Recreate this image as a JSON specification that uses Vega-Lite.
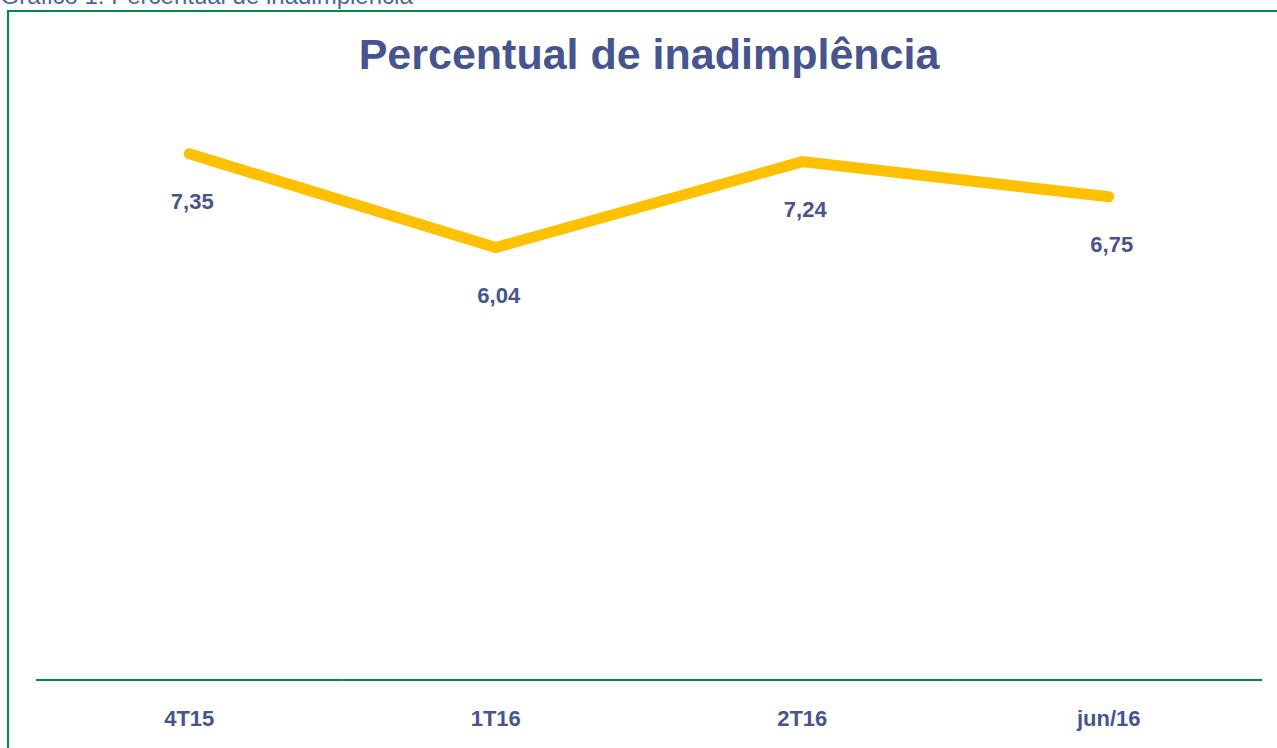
{
  "$schema": "https://vega.github.io/schema/vega-lite/v6.json",
  "autosize": "none",
  "padding": {"left": 8, "top": 11, "right": 0, "bottom": 0},
  "width": 1282,
  "height": 750,
  "background": "white",
  "title": {
    "text": "Percentual de inadimplência",
    "anchor": "middle",
    "frame": "group",
    "fontSize": 43,
    "fontWeight": "bold",
    "font": "Liberation Sans",
    "color": "#46548F",
    "baseline": "alphabetic",
    "offset": -59,
    "dy": 69
  },
  "config": {
    "view": {"stroke": "#008A4B", "strokeWidth": 2},
    "locale": {"number": {"decimal": ",", "thousands": ".", "grouping": [3], "currency": ["R$", ""]}},
    "font": "Liberation Sans"
  },
  "data": {
    "values": [
      {"periodo": "4T15", "valor": 7.35},
      {"periodo": "1T16", "valor": 6.04},
      {"periodo": "2T16", "valor": 7.24},
      {"periodo": "jun/16", "valor": 6.75}
    ]
  },
  "encoding": {
    "x": {
      "field": "periodo",
      "type": "nominal",
      "sort": null,
      "scale": {"type": "band", "domain": ["4T15", "1T16", "2T16", "jun/16"], "paddingInner": 0, "paddingOuter": 0.0914},
      "axis": {
        "title": null,
        "domain": false,
        "ticks": false,
        "tickSize": 0,
        "grid": false,
        "labelAngle": 0,
        "labelFont": "Liberation Sans",
        "labelFontSize": 22,
        "labelFontWeight": "bold",
        "labelColor": "#46548F",
        "labelBaseline": "alphabetic",
        "labelPadding": -36
      }
    },
    "y": {
      "field": "valor",
      "type": "quantitative",
      "scale": {"domain": [-1.131, 9.344], "nice": false, "zero": false},
      "axis": {
        "title": "Gráfico 1: Percentual de inadimplência",
        "labels": false,
        "ticks": false,
        "domain": false,
        "grid": false,
        "titleAngle": 0,
        "titleX": -8,
        "titleY": -8,
        "titleAlign": "left",
        "titleBaseline": "alphabetic",
        "titleFont": "Liberation Sans",
        "titleFontSize": 24,
        "titleFontWeight": "normal",
        "titleColor": "#5062A0"
      }
    }
  },
  "layer": [
    {
      "mark": {"type": "bar", "color": "#008A4B"},
      "encoding": {
        "y": {"datum": -0.014},
        "y2": {"datum": 0.014}
      }
    },
    {
      "mark": {"type": "line", "color": "#FFC000", "strokeWidth": 11, "strokeCap": "round", "strokeJoin": "miter"}
    },
    {
      "mark": {"type": "text", "dy": 48, "dx": 3, "fontSize": 22, "fontWeight": "bold", "color": "#46548F", "baseline": "middle", "font": "Liberation Sans"},
      "encoding": {
        "text": {"field": "valor", "type": "quantitative", "format": ".2f"}
      }
    }
  ]
}
